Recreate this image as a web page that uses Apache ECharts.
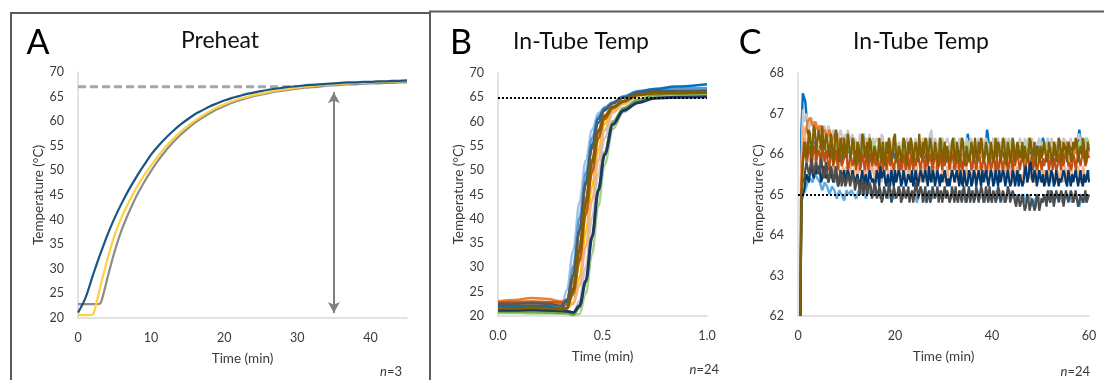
<!DOCTYPE html>
<html><head><meta charset="utf-8">
<script src="https://cdn.jsdelivr.net/npm/echarts@6.0.0/dist/echarts.min.js"></script>
<style>html,body{margin:0;padding:0;background:#fff}#c{width:1105px;height:380px}</style>
</head><body><div id="c"></div>
<script>
// ---------- Panel A : Preheat ----------
const tA = [0,1,2,2.5,3,3.5,4,5,6,7,8,9,10,11,12,13,14,15,16,17,18,19,20,21,22,23,24,25,26,27,28,29,30,31,32,33,34,35,36,37,38,39,40,41,42,43,44,45];
const preheatBlue = [21.1,24.0,28.5,30.7,32.8,34.8,36.8,40.3,43.4,46.2,48.7,51.0,53.2,55.0,56.6,58.0,59.3,60.4,61.4,62.2,63.0,63.6,64.2,64.7,65.1,65.5,65.8,66.1,66.4,66.6,66.8,67.0,67.1,67.3,67.4,67.5,67.6,67.7,67.8,67.9,67.9,68.0,68.0,68.1,68.1,68.2,68.2,68.3];
const preheatYellow = [20.6,20.6,20.7,23.0,26.0,29.0,31.8,36.8,40.6,43.7,46.5,48.9,51.0,53.0,54.8,56.4,57.8,59.0,60.1,61.1,62.0,62.8,63.4,64.0,64.5,64.9,65.3,65.6,65.9,66.2,66.4,66.6,66.8,67.0,67.1,67.3,67.4,67.5,67.6,67.7,67.8,67.8,67.9,68.0,68.0,68.1,68.1,68.2];
const preheatGray = [22.8,22.8,22.8,22.8,22.9,25.0,28.0,33.5,38.0,41.6,44.8,47.5,49.9,52.1,54.0,55.7,57.2,58.5,59.7,60.7,61.6,62.4,63.1,63.7,64.2,64.7,65.1,65.4,65.7,66.0,66.2,66.4,66.6,66.8,66.9,67.0,67.2,67.3,67.4,67.5,67.5,67.6,67.7,67.7,67.8,67.8,67.9,67.9];
const preheatTarget = 67, dashEnd = 31.5;
const arrowX = 35, arrowTop = 65.9, arrowBottom = 21.0;
const xTicksA = {min:0, max:45, interval:10};
const yTicksA = {min:20, max:70, interval:5};

// ---------- Panel B : In-Tube Temp (first minute) ----------
const tB = [0,0.08,0.16,0.24,0.30,0.33,0.36,0.39,0.42,0.45,0.48,0.51,0.55,0.60,0.67,0.75,0.85,1.0];
const bLightGray  = [21.0,21.0,21.1,21.0,21.0,20.9,20.5,23.1,30.1,40.2,49.3,56.6,61.9,64.2,65.8,66.6,66.7,66.8];
const bPaleBlue   = [21.3,21.3,21.4,21.3,21.3,25.4,33.5,43.4,52.0,58.3,61.7,63.0,64.0,65.0,66.0,66.3,66.4,66.5];
const bLightBlue  = [21.0,21.0,21.1,21.0,20.5,23.1,30.2,40.2,49.4,56.7,61.1,62.8,64.0,65.2,66.3,66.7,66.8,66.9];
const bYellow     = [21.9,21.9,22.0,21.9,21.9,21.5,22.8,27.9,37.2,46.7,54.2,59.5,62.4,63.9,65.5,66.1,66.2,66.3];
const bGray       = [22.3,22.2,22.3,22.2,22.2,21.9,24.3,31.1,40.8,49.6,56.6,60.6,62.8,64.2,65.7,66.2,66.3,66.4];
const bPeach      = [22.4,22.4,22.5,22.4,22.4,22.2,22.4,26.3,34.2,43.8,52.1,58.2,61.9,63.6,65.2,65.9,66.1,66.2];
const bOrange     = [23.0,23.3,23.7,23.5,23.0,23.2,27.0,34.7,44.1,52.2,58.2,61.3,63.0,64.2,65.5,65.9,65.9,66.0];
const bLightGreen = [20.6,20.6,20.5,20.5,20.5,20.4,20.2,20.4,24.6,32.7,42.6,51.1,58.5,62.0,64.0,65.2,65.5,65.6];
const bGreen      = [20.8,20.8,20.8,20.7,20.6,20.6,20.2,21.7,26.9,36.3,46.0,53.7,60.0,62.8,64.5,65.5,65.8,65.9];
const bBlue       = [22.0,22.0,22.1,22.0,21.5,22.9,28.2,37.7,47.5,55.3,60.6,62.6,63.8,65.0,66.1,66.7,67.2,67.7];
const bDarkOrange = [22.8,22.9,23.0,22.9,22.8,22.4,24.7,31.4,41.0,49.6,56.5,60.5,62.8,64.1,65.5,65.9,66.0,66.1];
const bDarkGray   = [22.5,22.5,22.6,22.5,22.1,23.4,28.5,37.6,47.0,54.5,59.7,62.3,63.8,64.9,65.9,66.3,66.3,66.4];
const bNavy       = [21.2,21.2,21.3,21.2,21.1,21.0,20.7,22.1,27.2,36.3,45.8,53.2,59.4,62.3,63.9,64.8,65.0,65.1];
const bOlive      = [21.6,21.6,21.7,21.6,21.4,21.6,25.6,33.6,43.3,51.7,57.9,61.1,63.0,64.2,65.5,65.9,65.9,66.0];
const setpoint = 65;

// ---------- Panel C : In-Tube Temp (60 min) ----------
const tC = [0.5,0.7,
 1,1.5,2,2.5,3,3.5,4,4.5,5,5.5, 6,6.5,7,7.5,8,8.5,9,9.5,10,10.5,
 11,11.5,12,12.5,13,13.5,14,14.5,15,15.5, 16,16.5,17,17.5,18,18.5,19,19.5,20,20.5,
 21,21.5,22,22.5,23,23.5,24,24.5,25,25.5, 26,26.5,27,27.5,28,28.5,29,29.5,30,30.5,
 31,31.5,32,32.5,33,33.5,34,34.5,35,35.5, 36,36.5,37,37.5,38,38.5,39,39.5,40,40.5,
 41,41.5,42,42.5,43,43.5,44,44.5,45,45.5, 46,46.5,47,47.5,48,48.5,49,49.5,50,50.5,
 51,51.5,52,52.5,53,53.5,54,54.5,55,55.5, 56,56.5,57,57.5,58,58.5,59,59.5,60];
// in-between sample times (used by the densely drawn series)
const tCmid = [
 1.25,1.75,2.25,2.75,3.25,3.75,4.25,4.75,5.25,5.75, 6.25,6.75,7.25,7.75,8.25,8.75,9.25,9.75,10.25,10.75,
 11.25,11.75,12.25,12.75,13.25,13.75,14.25,14.75,15.25,15.75, 16.25,16.75,17.25,17.75,18.25,18.75,19.25,19.75,20.25,20.75,
 21.25,21.75,22.25,22.75,23.25,23.75,24.25,24.75,25.25,25.75, 26.25,26.75,27.25,27.75,28.25,28.75,29.25,29.75,30.25,30.75,
 31.25,31.75,32.25,32.75,33.25,33.75,34.25,34.75,35.25,35.75, 36.25,36.75,37.25,37.75,38.25,38.75,39.25,39.75,40.25,40.75,
 41.25,41.75,42.25,42.75,43.25,43.75,44.25,44.75,45.25,45.75, 46.25,46.75,47.25,47.75,48.25,48.75,49.25,49.75,50.25,50.75,
 51.25,51.75,52.25,52.75,53.25,53.75,54.25,54.75,55.25,55.75, 56.25,56.75,57.25,57.75,58.25,58.75,59.25,59.75];
const cLightBlue = [62,64.9,
 64.9,65.1,65.3,65.4,65.3,65.5,65.4,65.3,65.1,65.3, 65.2,65.0,65.2,65.1,64.9,65.1,65.0,64.85,65.1,65.0,
 65.1,65.0,64.9,65.1,65.0,65.2,64.9,65.1,65.0,65.1, 65.0,65.1,64.9,65.0,65.1,64.9,65.0,65.1,64.9,65.0,
 65.1,64.9,65.0,65.1,64.9,65.0,65.1,64.8,65.0,65.1, 64.9,64.8,65.0,65.1,64.9,65.0,65.1,64.9,65.0,65.1,
 65.0,64.9,65.1,65.0,64.9,65.1,65.0,64.8,65.0,65.1, 64.9,65.0,65.1,64.9,65.0,64.8,65.1,65.0,64.9,65.0,
 65.1,64.9,65.0,64.8,65.0,65.1,64.9,65.0,64.8,65.0, 64.9,65.0,64.8,65.0,64.9,64.7,64.9,65.0,64.8,64.9,
 65.0,64.9,65.1,64.8,65.0,64.9,65.0,64.8,65.0,64.9, 65.0,64.8,65.0,64.9,64.7,65.0,64.8,64.9,65.0];
const cBlue = [62,66.6,
 67.5,67.3,66.6,66.3,66.1,66.3,66.0,66.2,66.1,65.9, 66.1,66.0,66.2,65.9,66.1,66.0,65.8,66.2,66.0,66.1,
 66.0,66.2,65.9,66.1,66.0,66.5,66.1,65.9,66.2,66.0, 66.1,66.0,66.3,66.0,65.9,66.2,66.0,66.1,65.9,66.0,
 66.1,66.0,65.9,66.2,66.0,66.1,65.9,66.0,66.3,66.0, 65.9,66.1,66.0,66.2,66.0,65.9,66.1,66.0,66.2,66.0,
 66.1,66.0,66.3,65.9,66.1,66.0,66.2,65.9,66.5,66.0, 66.1,65.9,66.2,66.0,66.1,66.0,66.6,66.1,65.9,66.0,
 66.1,66.0,66.2,65.9,66.1,66.0,65.9,66.2,66.0,66.1, 66.0,66.1,65.9,66.2,66.0,66.1,66.0,66.2,65.9,66.4,
 66.1,66.0,66.2,65.9,66.1,66.0,66.2,66.0,65.9,66.1, 66.0,66.2,66.1,66.0,66.6,66.1,65.9,66.0,66.1];
const cLightGray = [62,65.5,
 67.1,66.9,66.8,66.6,66.8,66.5,66.7,66.6,66.4,66.7, 66.5,66.6,66.3,66.5,66.6,66.3,66.5,66.4,66.2,66.5,
 66.3,66.2,66.4,66.1,66.3,66.5,66.2,66.3,66.1,66.4, 66.2,66.3,66.1,66.4,66.2,66.1,66.3,66.2,66.4,66.1,
 66.3,66.2,66.1,66.4,66.2,66.3,66.1,66.2,66.3,66.2, 66.1,66.4,66.2,66.6,66.1,66.3,66.2,66.1,66.3,66.2,
 66.4,66.1,66.2,66.3,66.1,66.2,66.4,66.1,66.3,66.2, 66.1,66.3,66.2,66.1,66.4,66.2,66.3,66.1,66.2,66.3,
 66.2,66.1,66.3,66.2,66.1,66.4,66.2,66.3,66.1,66.2, 66.3,66.1,66.2,66.4,66.2,66.1,66.3,66.2,66.1,66.3,
 66.2,66.4,66.1,66.3,66.2,66.1,66.3,66.2,66.4,66.1, 66.3,66.2,66.1,66.3,66.5,66.2,66.1,66.3,66.2];
const cLightGrayMid = [
 66.8,67.0,66.6,66.9,66.5,66.8,66.5,66.7,66.6,66.4, 66.7,66.3,66.6,66.4,66.3,66.6,66.3,66.5,66.6,66.3,
 66.5,66.4,66.2,66.5,66.2,66.3,66.4,66.5,66.3,66.2, 66.4,66.2,66.5,66.2,66.3,66.4,66.2,66.4,66.2,66.3,
 66.2,66.4,66.3,66.2,66.4,66.2,66.4,66.3,66.2,66.4, 66.3,66.2,66.5,66.3,66.4,66.2,66.3,66.4,66.2,66.4,
 66.2,66.3,66.4,66.2,66.4,66.3,66.2,66.4,66.2,66.4, 66.3,66.2,66.4,66.3,66.2,66.4,66.2,66.3,66.4,66.2,
 66.4,66.3,66.2,66.4,66.3,66.2,66.4,66.2,66.3,66.4, 66.2,66.4,66.3,66.2,66.4,66.3,66.2,66.4,66.3,66.2,
 66.3,66.2,66.4,66.2,66.3,66.4,66.2,66.4,66.3,66.2, 66.4,66.2,66.3,66.4,66.3,66.2,66.4,66.3];
const cOrange = [62,65.8,
 66.2,66.5,66.8,66.9,66.7,66.8,66.6,66.7,66.5,66.6, 66.4,66.6,66.3,66.5,66.4,66.2,66.4,66.3,66.1,66.2,
 66.1,66.3,66.0,66.2,66.0,66.1,65.9,66.2,66.0,66.1, 66.0,66.2,65.9,66.1,66.0,65.8,66.1,66.0,66.2,65.9,
 66.1,66.0,65.9,66.2,66.0,66.1,65.8,66.0,66.1,65.9, 66.0,66.1,65.9,66.2,66.0,65.9,66.1,66.0,65.8,66.1,
 66.0,66.2,65.9,66.0,66.1,65.9,66.0,66.2,65.9,66.0, 66.1,65.9,66.0,66.2,65.9,66.1,66.0,65.8,66.1,66.0,
 65.9,66.1,66.0,66.2,65.9,66.0,66.1,65.9,66.0,66.2, 66.0,65.9,66.1,66.0,66.2,65.9,66.0,66.1,65.9,66.0,
 66.1,66.0,65.9,66.1,66.0,66.2,65.9,66.0,66.1,66.3, 66.0,65.9,66.1,66.0,66.2,66.0,65.9,66.1,66.0];
const cLightGreen = [62,65.2,
 65.9,66.1,66.2,66.0,66.3,66.1,66.2,66.0,66.3,66.1, 66.2,66.0,66.3,66.1,66.2,66.0,66.1,66.3,66.0,66.2,
 66.1,66.0,66.2,66.1,66.3,66.0,66.1,66.2,66.0,66.3, 66.1,66.2,66.0,66.3,66.1,66.0,66.2,66.1,66.3,66.0,
 66.2,66.1,66.0,66.2,66.1,66.3,66.0,66.1,66.2,66.0, 66.1,66.3,66.0,66.2,66.1,66.0,66.2,66.4,66.1,66.0,
 66.2,66.1,66.3,66.0,66.1,66.2,66.0,66.1,66.3,66.1, 66.0,66.2,66.1,66.3,66.0,66.1,66.2,66.0,66.1,66.3,
 66.1,66.0,66.2,66.1,66.0,66.3,66.1,66.2,66.0,66.1, 66.2,66.0,66.1,66.3,66.1,66.0,66.2,66.1,66.0,66.2,
 66.1,66.3,66.0,66.1,66.2,66.0,66.1,66.3,66.0,66.2, 66.1,66.0,66.2,66.1,66.3,66.0,66.2,66.4,66.3];
const cPeach = [62,65.6,
 66.7,66.4,66.1,65.9,65.7,65.9,65.6,65.8,65.5,65.7, 65.6,65.8,65.4,65.7,65.5,65.8,65.4,65.6,65.7,65.4,
 65.6,65.5,65.8,65.4,65.6,65.3,65.7,65.5,65.4,65.7, 65.5,65.3,65.6,65.7,65.4,65.6,65.3,65.5,65.7,65.4,
 65.6,65.4,65.7,65.3,65.5,65.6,65.4,65.7,65.5,65.3, 65.6,65.5,65.3,65.7,65.4,65.6,65.5,65.3,65.6,65.4,
 65.7,65.4,65.5,65.3,65.6,65.5,65.7,65.4,65.5,65.6, 65.3,65.6,65.4,65.7,65.5,65.3,65.6,65.4,65.5,65.7,
 65.4,65.5,65.7,65.3,65.6,65.4,65.5,65.7,65.4,65.6, 65.5,65.3,65.6,65.4,65.7,65.5,65.3,65.6,65.5,65.4,
 65.6,65.4,65.7,65.5,65.3,65.6,65.4,65.5,65.7,65.4, 65.5,65.6,65.3,65.5,65.7,65.4,65.6,65.5,65.6];
const cPeachMid = [
 66.6,66.2,65.8,66.0,65.5,65.8,65.5,65.9,65.7,65.4, 65.8,65.4,65.7,65.4,65.8,65.5,65.7,65.4,65.5,65.8,
 65.3,65.8,65.4,65.7,65.5,65.8,65.3,65.7,65.8,65.4, 65.7,65.8,65.3,65.4,65.8,65.3,65.7,65.4,65.3,65.7,
 65.3,65.7,65.4,65.8,65.4,65.3,65.8,65.4,65.3,65.7, 65.3,65.7,65.6,65.3,65.7,65.3,65.4,65.7,65.3,65.7,
 65.3,65.7,65.4,65.7,65.3,65.8,65.3,65.7,65.4,65.3, 65.7,65.3,65.7,65.3,65.7,65.6,65.3,65.7,65.3,65.4,
 65.7,65.3,65.4,65.7,65.3,65.7,65.3,65.4,65.7,65.3, 65.3,65.7,65.3,65.7,65.3,65.4,65.7,65.3,65.7,65.6,
 65.3,65.7,65.3,65.4,65.7,65.3,65.7,65.3,65.4,65.7, 65.7,65.3,65.6,65.7,65.3,65.7,65.3,65.4];
const cDarkOrange = [62,65.3,
 65.9,66.1,65.8,66.2,65.9,66.1,65.8,66.0,66.2,65.8, 66.0,65.7,66.1,65.8,65.9,66.1,65.7,65.9,66.0,65.7,
 65.9,65.8,65.6,66.0,65.7,65.9,65.8,65.6,66.0,65.8, 65.7,65.9,65.8,65.6,66.0,65.8,65.7,65.9,65.6,65.8,
 65.9,65.7,65.8,66.0,65.6,65.8,65.9,65.7,65.8,65.6, 65.8,66.0,65.7,65.8,65.6,65.9,65.7,65.8,66.0,65.7,
 65.8,65.6,65.9,65.7,65.8,66.0,65.6,65.8,65.7,65.9, 65.7,65.8,65.6,65.9,65.7,65.8,65.5,65.9,65.7,65.8,
 65.9,65.7,65.8,65.6,65.9,65.7,65.8,66.0,65.7,65.8, 65.6,65.8,65.7,65.9,65.8,65.6,65.9,65.7,65.8,65.9,
 65.7,65.9,65.8,65.6,65.9,65.7,65.8,66.0,65.7,65.9, 65.8,65.7,65.9,65.8,66.0,65.7,65.9,65.8,65.9];
const cDarkOrangeMid = [
 66.3,65.8,66.1,65.7,66.2,65.8,66.1,65.7,66.0,66.1, 65.6,66.0,65.7,66.1,65.6,66.0,65.8,66.1,65.6,66.0,
 65.7,66.1,65.9,65.6,66.0,65.6,66.1,65.9,65.7,66.0, 65.9,65.6,66.0,65.9,65.6,66.1,65.9,65.6,66.0,65.6,
 65.6,66.0,65.6,65.8,66.0,65.6,65.7,66.0,65.6,66.0, 65.6,65.7,66.0,65.6,66.0,65.6,66.0,65.6,65.7,66.0,
 65.6,66.0,65.6,66.0,65.6,65.7,66.0,65.7,66.0,65.6, 66.0,65.6,66.0,65.6,65.9,65.6,66.0,65.6,66.0,65.6,
 65.6,66.0,65.6,66.0,65.6,66.0,65.6,65.7,66.1,65.6, 66.0,65.6,66.0,65.6,66.0,65.9,65.6,66.0,65.6,65.7,
 66.0,65.6,66.0,65.9,65.6,66.0,65.6,65.7,66.1,65.7, 65.6,66.0,65.6,66.0,65.7,66.1,65.7,66.0];
const cNavy = [62,64.8,
 65.0,65.3,65.5,65.6,65.5,65.7,65.5,65.6,65.4,65.6, 65.5,65.3,65.6,65.4,65.5,65.3,65.5,65.6,65.3,65.5,
 65.4,65.6,65.3,65.5,65.4,65.2,65.5,65.3,65.6,65.4, 65.3,65.5,65.7,65.4,65.3,65.5,65.2,65.4,65.6,65.3,
 65.5,65.3,65.4,65.2,65.5,65.6,65.3,65.4,65.2,65.5, 65.3,65.4,65.7,65.3,65.5,65.2,65.4,65.5,65.3,65.6,
 65.4,65.2,65.5,65.3,65.4,65.6,65.2,65.4,65.3,65.5, 65.3,65.5,65.2,65.4,65.6,65.3,65.4,65.2,65.5,65.3,
 65.4,65.6,65.3,65.5,65.2,65.4,65.3,65.5,65.4,65.2, 65.5,65.3,65.7,65.4,65.8,65.3,65.5,65.2,65.4,65.5,
 65.3,65.4,65.2,65.5,65.3,65.6,65.4,65.3,65.5,65.2, 65.4,65.5,65.3,65.6,65.4,65.3,65.5,65.4,65.3];
const cNavyMid = [
 65.1,65.5,65.3,65.8,65.4,65.5,65.7,65.3,65.7,65.4, 65.3,65.6,65.3,65.6,65.2,65.6,65.4,65.3,65.6,65.3,
 65.6,65.3,65.5,65.2,65.6,65.4,65.2,65.6,65.3,65.2, 65.6,65.2,65.4,65.6,65.2,65.3,65.6,65.2,65.3,65.6,
 65.2,65.6,65.2,65.5,65.3,65.2,65.6,65.2,65.6,65.3, 65.6,65.2,65.4,65.6,65.2,65.6,65.2,65.3,65.6,65.2,
 65.2,65.6,65.3,65.6,65.2,65.3,65.6,65.2,65.6,65.2, 65.6,65.2,65.6,65.2,65.3,65.6,65.2,65.6,65.2,65.6,
 65.2,65.3,65.6,65.2,65.6,65.2,65.6,65.2,65.6,65.5, 65.2,65.6,65.3,65.7,65.4,65.6,65.2,65.6,65.3,65.2,
 65.6,65.2,65.6,65.2,65.6,65.2,65.3,65.6,65.3,65.6, 65.2,65.3,65.6,65.2,65.6,65.2,65.3,65.6];
const cDarkGray = [62,65.0,
 65.4,65.6,65.8,65.6,65.7,65.5,65.8,65.6,65.7,65.5, 65.6,65.4,65.6,65.3,65.5,65.4,65.2,65.5,65.3,65.4,
 65.2,65.4,65.1,65.3,65.2,65.0,65.3,65.1,65.2,65.0, 65.2,65.0,65.1,64.9,65.2,65.0,65.1,64.9,65.2,65.0,
 65.1,64.9,65.2,65.0,64.8,65.1,65.0,65.2,64.9,65.1, 65.0,64.8,65.1,64.9,65.2,65.0,64.8,65.1,65.0,64.9,
 65.1,64.9,65.0,65.2,64.8,65.0,65.1,64.9,65.0,64.8, 65.1,64.9,65.0,64.8,65.1,64.9,65.0,65.2,64.8,65.0,
 64.9,65.1,64.8,65.0,64.9,65.1,64.8,65.0,64.7,64.9, 64.8,65.0,64.7,64.9,64.6,64.8,64.7,64.9,64.6,64.8,
 64.9,65.1,64.8,65.0,64.9,65.1,64.8,65.0,64.9,65.1, 64.8,65.0,64.9,65.1,64.8,65.0,64.9,64.8,65.0];
const cDarkGrayMid = [
 65.3,65.8,65.5,65.9,65.5,65.8,65.5,65.9,65.4,65.8, 65.3,65.7,65.4,65.7,65.2,65.6,65.5,65.2,65.5,65.2,
 65.5,65.1,65.4,65.0,65.4,65.2,65.0,65.3,64.9,65.3, 64.9,65.2,64.8,65.2,64.9,65.3,64.8,65.2,64.9,65.2,
 64.8,65.2,64.9,65.2,65.0,64.8,65.3,64.9,65.2,64.8, 65.2,65.0,64.8,65.2,64.9,65.2,65.0,64.8,65.2,65.1,
 64.8,65.2,64.8,64.9,65.1,64.8,65.2,64.8,65.2,65.0, 64.8,65.2,64.8,65.2,64.8,65.2,64.8,64.9,65.1,64.8,
 65.2,64.8,65.1,64.8,65.2,64.8,65.1,64.8,65.0,64.7, 65.0,64.6,65.0,64.6,64.9,64.6,65.0,64.6,64.9,65.0,
 64.7,64.9,65.1,64.7,65.1,64.8,65.1,64.7,65.1,64.8, 65.1,64.8,65.1,64.7,65.0,64.8,65.1,64.8];
const cOlive = [62,64.8,
 65.8,66.3,66.1,66.5,66.2,66.6,66.0,66.4,66.7,66.1, 66.4,65.9,66.3,66.0,66.5,65.8,66.2,66.4,65.9,66.3,
 66.0,66.3,65.7,66.2,65.9,66.4,66.0,65.8,66.3,65.9, 66.2,65.8,66.1,66.3,65.7,66.0,66.2,65.9,66.5,65.8,
 66.1,65.9,66.3,65.7,66.0,66.2,65.8,66.1,66.5,65.9, 66.0,66.3,65.8,66.2,65.9,66.1,65.7,66.3,66.0,65.8,
 66.2,65.9,66.4,65.8,66.1,66.0,66.3,65.7,66.2,65.9, 66.1,66.4,65.8,66.0,66.2,65.9,66.3,65.8,66.1,66.0,
 65.9,66.2,66.0,66.3,65.7,66.1,65.9,66.2,65.8,66.3, 66.0,65.8,66.2,65.9,66.3,66.0,65.7,66.1,66.2,65.9,
 66.3,65.9,66.1,65.8,66.2,66.0,66.3,65.9,66.1,65.8, 66.2,65.9,66.1,66.3,65.8,66.0,66.2,65.9,66.1];
const cOliveMid = [
 66.0,65.9,66.6,65.9,66.7,66.0,66.6,66.1,66.2,66.5, 66.1,66.5,65.8,66.6,66.0,66.4,65.9,66.1,66.5,65.9,
 66.4,65.8,66.3,65.8,66.5,65.9,66.3,66.4,65.8,66.2, 65.9,66.4,65.8,65.9,66.3,66.4,65.8,66.4,65.9,66.2,
 65.8,66.4,65.9,66.3,66.4,65.8,66.3,65.8,66.0,66.3, 66.4,65.8,66.4,65.8,66.3,65.9,66.4,65.8,66.3,66.2,
 65.8,66.3,65.9,66.3,65.8,66.4,65.9,66.2,65.8,66.3, 65.8,66.0,66.3,66.4,65.8,66.3,65.9,66.3,65.8,66.4,
 66.3,65.8,66.4,65.9,66.3,65.8,66.4,65.8,66.3,65.9, 66.3,66.2,65.8,66.4,65.9,66.3,66.2,65.8,65.9,66.3,
 65.8,66.3,65.9,66.3,65.8,66.4,65.8,66.3,66.2,66.3, 65.8,66.3,66.4,65.8,66.2,66.4,65.8,66.3];
const xTicksB = {min:0, max:1, interval:0.5};
const yTicksB = {min:20, max:70, interval:5};
const xTicksC = {min:0, max:60, interval:20};
const yTicksC = {min:62, max:68, interval:1};

// ---------- build ----------
const FONT = 'Lato, "Open Sans", sans-serif';
const TXT = '#3A3A3A';
function pairs(t, v){ const n = Math.min(t.length, v.length); const out=[]; for(let i=0;i<n;i++) out.push([t[i], v[i]]); return out; }
function merged(v, vMid){ return vMid ? pairs(tC, v).concat(pairs(tCmid, vMid)).sort((a,b)=>a[0]-b[0]) : pairs(tC, v); }
function xAx(grid, ticks, fmt, showMax){
  return {gridIndex:grid, type:'value', min:ticks.min, max:ticks.max, interval:ticks.interval,
    axisLine:{show:true,onZero:false,lineStyle:{color:'#D9D9D9',width:1.5}}, axisTick:{show:false}, splitLine:{show:false},
    axisLabel:{color:TXT, fontSize:12.5, fontFamily:FONT, margin:13, formatter:fmt, showMaxLabel:showMax},
    name:'Time (min)', nameLocation:'middle', nameGap:34, nameTextStyle:{color:TXT, fontSize:13.5, fontFamily:FONT}};
}
function yAx(grid, ticks){
  return {gridIndex:grid, type:'value', min:ticks.min, max:ticks.max, interval:ticks.interval,
    axisLine:{show:true,lineStyle:{color:'#D9D9D9',width:1.5}}, axisTick:{show:false}, splitLine:{show:false},
    axisLabel:{color:TXT, fontSize:12.5, fontFamily:FONT, margin:14},
    name:'Temperature (°C)', nameLocation:'middle', nameGap:31, nameRotate:90, nameTextStyle:{color:TXT, fontSize:13.5, fontFamily:FONT}};
}
function lineS(ax, data, color, w, extra){
  return Object.assign({type:'line', xAxisIndex:ax, yAxisIndex:ax, data:data, showSymbol:false, symbol:'none',
    lineStyle:{color:color, width:w}, itemStyle:{color:color}, silent:true, animation:false}, extra||{});
}

const bSeries = [
  [bLightGray,'#C9C9C9'],[bPaleBlue,'#9DC3E6'],[bLightBlue,'#5B9BD5'],[bYellow,'#FFC000'],[bGray,'#A5A5A5'],
  [bPeach,'#F4B183'],[bOrange,'#ED7D31'],[bLightGreen,'#A9D18E'],[bGreen,'#70AD47'],[bBlue,'#0070C0'],
  [bDarkOrange,'#C55A11'],[bDarkGray,'#595959'],[bNavy,'#1F3864'],[bOlive,'#7F6000']
];
const cSeries = [
  [cLightBlue,null,'#5DADE2'],[cBlue,null,'#0070C0'],[cLightGray,cLightGrayMid,'#C8C8C8'],[cOrange,null,'#ED7D31'],
  [cLightGreen,null,'#A9D18E'],[cPeach,cPeachMid,'#F4B183'],[cDarkOrange,cDarkOrangeMid,'#C04F15'],
  [cNavy,cNavyMid,'#003A70'],[cDarkGray,cDarkGrayMid,'#4D4D4D'],[cOlive,cOliveMid,'#806000']
];
const dotted = {silent:true, symbol:'none', label:{show:false}, animation:false,
  lineStyle:{color:'#000', type:[2,2], width:2}, data:[{yAxis:setpoint}]};

const series = [];
series.push(lineS(0, pairs([xTicksA.min, dashEnd], [preheatTarget, preheatTarget]), '#A6A6A6', 3, {
  lineStyle:{color:'#A6A6A6', width:3, type:[8,4]}, z:1,
  markLine:{silent:true, animation:false, symbol:['arrow','arrow'], symbolSize:[9,11], label:{show:false},
    lineStyle:{color:'#808080', width:2, type:'solid'},
    data:[[{coord:[arrowX, arrowTop]},{coord:[arrowX, arrowBottom]}]]}
}));
series.push(lineS(0, pairs(tA, preheatGray), '#8C8C8C', 2.2, {smooth:0.3}));
series.push(lineS(0, pairs(tA, preheatYellow), '#FFD03F', 2.2, {smooth:0.3}));
series.push(lineS(0, pairs(tA, preheatBlue), '#1A5685', 2.2, {smooth:0.3}));
bSeries.forEach((s,i)=>{
  const w = (s[1]==='#1F3864'||s[1]==='#7F6000') ? 3 : 2.5;
  series.push(lineS(1, pairs(tB, s[0]), s[1], w, Object.assign({smooth:0.35, smoothMonotone:'x'}, i===0?{markLine:dotted}:{})));
});
cSeries.forEach((s,i)=>{
  series.push(lineS(2, merged(s[0], s[1]), s[2], s[1] ? 2.2 : 2.4, i===0?{markLine:dotted}:{}));
});

function txt(x,y,text,size,fill){
  return {type:'text', z:10, silent:true, style:{x:x,y:y,text:text,fill:fill,
    fontSize:size, fontFamily:FONT, align:'center', verticalAlign:'middle'}};
}
function nLabel(x,y,num){
  return {type:'text', z:10, silent:true, style:{x:x,y:y,text:'{i|n}{r|=' + num + '}', fill:TXT, fontSize:13, fontFamily:FONT,
    align:'right', verticalAlign:'middle', rich:{i:{fontStyle:'italic', fontSize:13, fontFamily:FONT, fill:TXT}, r:{fontSize:13, fontFamily:FONT, fill:TXT}}}};
}
function frame(x1,y1,x2,y2){ return {type:'line', silent:true, shape:{x1,y1,x2,y2}, style:{stroke:'#5A5A5A', lineWidth:2}}; }

const chart = echarts.init(document.getElementById('c'), null, {renderer:'canvas'});
chart.setOption({
  animation:false, backgroundColor:'#fff',
  grid:[
    {left:78, top:72, width:329, height:246},
    {left:498, top:73, width:209, height:243},
    {left:798, top:73, width:291, height:243}
  ],
  xAxis:[
    xAx(0, xTicksA, v=>String(v), false),
    xAx(1, xTicksB, v=>v.toFixed(1), true),
    xAx(2, xTicksC, v=>String(v), true)
  ],
  yAxis:[ yAx(0, yTicksA), yAx(1, yTicksB), yAx(2, yTicksC) ],
  series:series,
  graphic:[
    frame(11,13,11,380), frame(10,13,429,13),
    frame(430,11.5,430,380), frame(429,11.5,1104,11.5),
    txt(38,43,'A',34,'#000'),
    txt(220,41,'Preheat',23,'#111'),
    txt(461,43,'B',34,'#000'),
    txt(581,42,'In-Tube Temp',23,'#111'),
    txt(750,43,'C',34,'#000'),
    txt(921,42,'In-Tube Temp',23,'#111'),
    nLabel(402,372,3), nLabel(719,370,24), nLabel(1090,372,24)
  ]
});
</script></body></html>
